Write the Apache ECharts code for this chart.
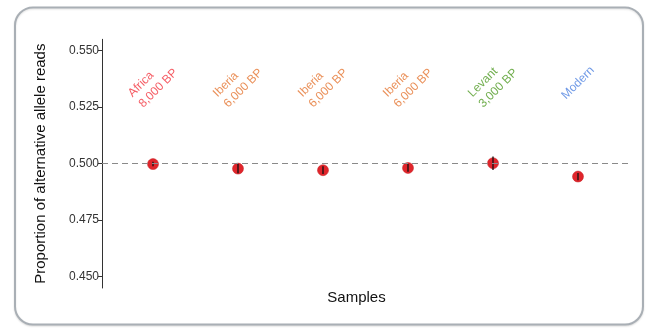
<!DOCTYPE html>
<html>
<head>
<meta charset="utf-8">
<script src="https://cdn.jsdelivr.net/npm/echarts@6/dist/echarts.min.js"></script>
<style>
  html, body { margin: 0; padding: 0; background: #fff; }
  #chart { width: 654px; height: 336px; }
</style>
</head>
<body>
<div id="chart"></div>
<script>
// Sample groups, in plotting order
const categories = ['Africa', 'Iberia', 'Iberia', 'Iberia', 'Levant', 'Modern'];
const sampleAges = ['8,000 BP', '6,000 BP', '6,000 BP', '6,000 BP', '3,000 BP', ''];
const labelColors = ['#f2353f', '#e5742f', '#e5742f', '#e5742f', '#4e9a22', '#4b7fe0'];

// Mean proportion of alternative allele reads and its error half-width
const proportions = [0.4998, 0.4978, 0.4971, 0.4981, 0.5002, 0.4943];
const errors = [0.0010, 0.0020, 0.0017, 0.0017, 0.0030, 0.0016];

// Y axis tick labels and the reference line
const yTicks = [0.450, 0.475, 0.500, 0.525, 0.550];
const refLevel = 0.5;

const FONT = '"Liberation Sans", Arial, Helvetica, sans-serif';
const LABEL_Y = 0.5357;

const xs = categories.map((_, i) => i + 1);

const pointData = xs.map((x, i) => [x, proportions[i]]);
const errorData = xs.map((x, i) => [x, proportions[i] - errors[i], proportions[i] + errors[i]]);
const labelData = xs.map((x, i) => ({
  value: [x, LABEL_Y],
  label: {
    formatter: sampleAges[i]
      ? '{t|' + categories[i] + '}\n{t|' + sampleAges[i] + '}'
      : '{t|' + categories[i] + '}',
    rich: { t: { color: labelColors[i], align: 'left', fontSize: 12, fontFamily: FONT, lineHeight: 15 } }
  }
}));

const chart = echarts.init(document.getElementById('chart'), null, { renderer: 'canvas' });

chart.setOption({
  animation: false,
  backgroundColor: '#ffffff',
  graphic: [{
    type: 'rect',
    z: -10,
    silent: true,
    shape: { x: 15, y: 7.5, width: 628, height: 317, r: 18 },
    style: { fill: '#ffffff', stroke: '#a9afb5', lineWidth: 2,
             shadowColor: 'rgba(0,0,0,0.12)', shadowBlur: 2, shadowOffsetY: 1 }
  }],
  grid: { left: 102, right: 25, top: 39.3, bottom: 48, containLabel: false },
  xAxis: {
    type: 'value',
    min: 0.4,
    max: 6.6,
    axisLine: { show: false },
    axisTick: { show: false },
    axisLabel: { show: false },
    splitLine: { show: false },
    name: 'Samples',
    nameLocation: 'middle',
    nameGap: 2,
    nameTextStyle: { fontSize: 15, color: '#111', fontFamily: FONT, padding: [0, 18, 0, 0] }
  },
  yAxis: {
    type: 'value',
    min: 0.445,
    max: 0.555,
    axisLine: { show: true, lineStyle: { color: '#333', width: 1 } },
    axisTick: { show: true, length: 4, customValues: yTicks, lineStyle: { color: '#333' } },
    axisLabel: {
      customValues: yTicks,
      formatter: v => v.toFixed(3),
      fontSize: 12,
      color: '#333',
      margin: 3,
      fontFamily: FONT
    },
    splitLine: { show: false },
    name: 'Proportion of alternative allele reads',
    nameLocation: 'middle',
    nameGap: 54,
    nameTextStyle: { fontSize: 15, color: '#111', fontFamily: FONT }
  },
  series: [
    {
      type: 'scatter',
      data: pointData,
      symbolSize: 11,
      z: 3,
      itemStyle: { color: '#e0252b', borderColor: '#c41c20', borderWidth: 0.5, opacity: 1 },
      markLine: {
        silent: true,
        symbol: ['none', 'none'],
        label: { show: false },
        lineStyle: { color: '#8a8a8a', type: [6, 4], width: 1 },
        data: [{ yAxis: refLevel }]
      }
    },
    {
      type: 'custom',
      z: 4,
      data: errorData,
      renderItem: function (params, api) {
        const top = api.coord([api.value(0), api.value(2)]);
        const bot = api.coord([api.value(0), api.value(1)]);
        return {
          type: 'line',
          shape: { x1: top[0], y1: top[1], x2: bot[0], y2: bot[1] },
          style: { stroke: '#111', lineWidth: 1.3 }
        };
      }
    },
    {
      type: 'scatter',
      data: labelData,
      symbolSize: 1,
      z: 5,
      silent: true,
      itemStyle: { color: 'transparent' },
      label: {
        show: true,
        position: 'inside',
        rotate: 45,
        align: 'center',
        verticalAlign: 'middle'
      }
    }
  ]
});
</script>
</body>
</html>
